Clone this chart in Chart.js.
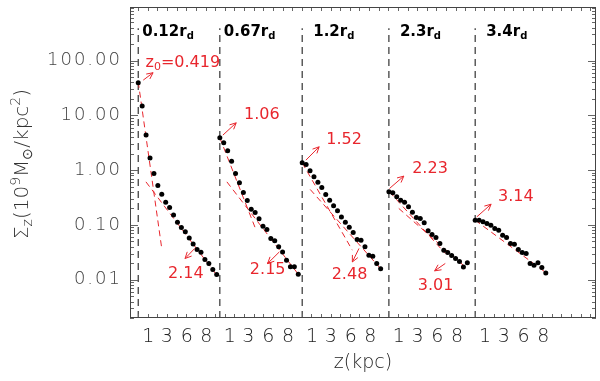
<!DOCTYPE html>
<html>
<head>
<meta charset="utf-8">
<script src="https://cdn.jsdelivr.net/npm/chart.js@4.4.0/dist/chart.umd.min.js"></script>
<style>
  html, body { margin: 0; padding: 0; background: #fff; }
</style>
</head>
<body>
<canvas id="chart" width="600" height="381"></canvas>
<script>
// vertical profiles, z in kpc, surface density in 1e9 Msun/kpc^2
const zKpc = [0, 0.5, 1, 1.5, 2, 2.5, 3, 3.5, 4, 4.5, 5, 5.5, 6, 6.5, 7, 7.5, 8, 8.5, 9, 9.5, 10];
const radii = ["0.12", "0.67", "1.2", "2.3", "3.4"];
const panelOffsets = [1.05, 11.45, 21.95, 33.0, 44.0];

const sigma1 = [39.3, 14.8, 4.36, 1.66, 0.87, 0.525, 0.364, 0.26, 0.208, 0.151, 0.112, 0.0897, 0.0747, 0.058, 0.045, 0.0356, 0.0318, 0.0233, 0.0197, 0.0153, 0.0124];
const sigma2 = [3.89, 3.15, 2.25, 1.46, 0.87, 0.586, 0.391, 0.279, 0.194, 0.169, 0.129, 0.095, 0.0824, 0.0565, 0.0512, 0.0398, 0.0322, 0.0227, 0.0172, 0.0172, 0.0126];
const sigma3 = [1.36, 1.27, 0.973, 0.755, 0.604, 0.483, 0.36, 0.283, 0.223, 0.181, 0.14, 0.112, 0.091, 0.0727, 0.0542, 0.0527, 0.0398, 0.028, 0.0269, 0.0197, 0.0158];
const sigma4 = [0.402, 0.385, 0.326, 0.283, 0.26, 0.214, 0.171, 0.137, 0.131, 0.109, 0.078, 0.0668, 0.0589, 0.0458, 0.0346, 0.0313, 0.0276, 0.0243, 0.0215, 0.0171, 0.0203];
const sigma5 = [0.122, 0.122, 0.114, 0.106, 0.099, 0.086, 0.08, 0.065, 0.0589, 0.0458, 0.0445, 0.0356, 0.0313, 0.03, 0.0197, 0.0184, 0.0203, 0.0167, 0.0133];

// exponential fits: [z start, sigma start, z end, sigma end]
const fitInner = [[0, 41, 2.97, 0.0397], [0, 3.89, 4.63, 0.08], [0, 1.36, 6.39, 0.0346], [0.08, 0.402, 7.19, 0.0301], [0, 0.122, 8.88, 0.0139]];
const fitOuter = [[0.98, 0.611, 9.95, 0.0124], [0.9, 0.611, 10.0, 0.0126], [1.02, 0.444, 10.03, 0.0157], [1.26, 0.2, 9.73, 0.0171]];
const scaleInner = ["0.419", "1.06", "1.52", "2.23", "3.14"];
const scaleOuter = ["2.14", "2.15", "2.48", "3.01"];

const yTicks = [0.01, 0.1, 1, 10, 100];
const yTickText = ["0.01", "0.10", "1.00", "10.00", "100.00"];
const xTickPos = [1.27, 3.64, 6.18, 8.68];
const xTickText = ["1", "3", "6", "8"];

const RED = "#e8262d";
const FONT = '"DejaVu Sans", sans-serif';

// where the annotations sit, in axis units (x, sigma)
const innerLabelAt = [[6.73, 90], [16.81, 10.1], [27.28, 3.64], [38.24, 1.07], [49.18, 0.325]];
const outerLabelAt = [[7.11, 0.013], [17.55, 0.0149], [27.98, 0.0121], [38.96, 0.0076]];
const innerArrows = [[1.69, 44, 2.94, 60], [11.84, 4.36, 13.54, 7.31], [22.42, 1.52, 24.11, 2.67], [33.08, 0.463, 34.9, 0.777], [44.2, 0.14, 46.03, 0.239]];
const outerArrows = [[8.25, 0.0372, 7.02, 0.0244], [19.04, 0.0322, 17.55, 0.0198], [29.19, 0.0372, 28.34, 0.0211], [40.19, 0.0198, 38.83, 0.0145]];

const datasets = [];
[sigma1, sigma2, sigma3, sigma4, sigma5].forEach((vals, i) => {
  datasets.push({
    data: vals.map((v, j) => ({ x: panelOffsets[i] + zKpc[j], y: v })),
    showLine: false,
    pointRadius: 2.5,
    pointBackgroundColor: "#000",
    pointBorderWidth: 0,
  });
});
fitInner.concat(fitOuter).forEach((f, k) => {
  const p = panelOffsets[k < fitInner.length ? k : k - fitInner.length];
  datasets.push({
    data: [{ x: p + f[0], y: f[1] }, { x: p + f[2], y: f[3] }],
    showLine: true,
    borderColor: RED,
    borderWidth: 1,
    borderDash: [6, 4],
    pointRadius: 0,
  });
});
panelOffsets.forEach((p) => {
  datasets.push({
    data: [{ x: p, y: 0.002 }, { x: p, y: 390 }],
    showLine: true,
    borderColor: "#333",
    borderWidth: 1.2,
    borderDash: [7, 5],
    pointRadius: 0,
  });
});

function richText(ctx, parts, x, y, align) {
  let w = 0;
  parts.forEach((p) => { ctx.font = p.font; w += ctx.measureText(p.t).width; });
  let cx = align === "center" ? x - w / 2 : x;
  parts.forEach((p) => {
    ctx.font = p.font;
    ctx.fillText(p.t, cx, y + (p.dy || 0));
    cx += ctx.measureText(p.t).width;
  });
}

function arrow(ctx, x0, y0, x1, y1) {
  const ang = Math.atan2(y1 - y0, x1 - x0);
  const h = 7;
  ctx.beginPath();
  ctx.moveTo(x0, y0);
  ctx.lineTo(x1, y1);
  ctx.moveTo(x1 - h * Math.cos(ang - 0.45), y1 - h * Math.sin(ang - 0.45));
  ctx.lineTo(x1, y1);
  ctx.lineTo(x1 - h * Math.cos(ang + 0.45), y1 - h * Math.sin(ang + 0.45));
  ctx.stroke();
}

const decorations = {
  id: "decorations",
  afterDraw(chart) {
    const { ctx, chartArea: a, scales: { x, y } } = chart;
    ctx.save();
    ctx.strokeStyle = "#666";
    ctx.lineWidth = 1;
    ctx.beginPath();
    for (let e = -3; e <= 2; e++) {
      for (let m = 1; m <= 9; m++) {
        const v = m * Math.pow(10, e);
        if (v < y.min || v > y.max) continue;
        const py = Math.round(y.getPixelForValue(v)) + 0.5;
        const len = m === 1 ? 8 : 4;
        ctx.moveTo(a.left, py); ctx.lineTo(a.left + len, py);
        ctx.moveTo(a.right, py); ctx.lineTo(a.right - len, py);
      }
    }
    for (let u = 1.05; u <= x.max; u += 1.226) {
      const px = Math.round(x.getPixelForValue(u)) + 0.5;
      ctx.moveTo(px, a.bottom); ctx.lineTo(px, a.bottom - 4);
      ctx.moveTo(px, a.top); ctx.lineTo(px, a.top + 4);
    }
    ctx.stroke();
    ctx.strokeStyle = "#444";
    ctx.strokeRect(a.left + 0.5, a.top + 0.5, a.width - 1, a.height - 1);

    // y tick labels
    ctx.fillStyle = "#444";
    ctx.font = "200 18px " + FONT;
    ctx.textAlign = "right";
    ctx.textBaseline = "middle";
    ctx.letterSpacing = "2px";
    yTicks.forEach((v, i) => ctx.fillText(yTickText[i], a.left - 8, y.getPixelForValue(v)));
    ctx.letterSpacing = "0px";

    // y title
    ctx.save();
    ctx.translate(28, 164);
    ctx.rotate(-Math.PI / 2);
    ctx.fillStyle = "#333";
    ctx.textAlign = "left";
    ctx.textBaseline = "alphabetic";
    const big = "200 20px " + FONT, small = "200 14px " + FONT;
    richText(ctx, [
      { t: "\u03A3", font: big }, { t: "z", font: small, dy: 4 },
      { t: "(10", font: big }, { t: "9", font: small, dy: -8 },
      { t: "M", font: big }, { t: "\u2299", font: small, dy: 4 },
      { t: "/kpc", font: big }, { t: "2", font: small, dy: -8 },
      { t: ")", font: big },
    ], 0, 0, "center");
    ctx.restore();

    // panel titles
    ctx.fillStyle = "#000";
    ctx.textAlign = "left";
    ctx.textBaseline = "alphabetic";
    const titleDx = [4, 4, 11, 11, 11];
    radii.forEach((r, i) => {
      const px = x.getPixelForValue(panelOffsets[i]) + titleDx[i];
      richText(ctx, [
        { t: r + "r", font: "bold 15px " + FONT },
        { t: "d", font: "bold 10px " + FONT, dy: 3 },
      ], px, a.top + 29, "left");
    });

    // scale heights
    ctx.fillStyle = RED;
    ctx.strokeStyle = RED;
    ctx.textBaseline = "middle";
    const lab = "16px " + FONT;
    scaleInner.forEach((s, i) => {
      const [u, v] = innerLabelAt[i];
      const parts = i === 0
        ? [{ t: "z", font: lab }, { t: "0", font: "11px " + FONT, dy: 4 }, { t: "=" + s, font: lab }]
        : [{ t: s, font: lab }];
      richText(ctx, parts, x.getPixelForValue(u), y.getPixelForValue(v), "center");
    });
    scaleOuter.forEach((s, i) => {
      const [u, v] = outerLabelAt[i];
      richText(ctx, [{ t: s, font: lab }], x.getPixelForValue(u), y.getPixelForValue(v), "center");
    });
    ctx.lineWidth = 1;
    innerArrows.concat(outerArrows).forEach((r) => {
      arrow(ctx, x.getPixelForValue(r[0]), y.getPixelForValue(r[1]), x.getPixelForValue(r[2]), y.getPixelForValue(r[3]));
    });
    ctx.restore();
  },
};

new Chart(document.getElementById("chart"), {
  type: "scatter",
  data: { datasets },
  options: {
    responsive: false,
    animation: false,
    events: [],
    layout: { padding: { top: 7, right: 2, left: 0, bottom: 0 } },
    plugins: { legend: { display: false }, tooltip: { enabled: false } },
    scales: {
      x: {
        type: "linear",
        min: 0,
        max: 59.4,
        grid: { display: false, drawTicks: false },
        border: { display: false },
        afterBuildTicks: (scale) => {
          scale.ticks = [];
          panelOffsets.forEach((p) => xTickPos.forEach((t) => scale.ticks.push({ value: p + t })));
        },
        afterFit: (scale) => { scale.height = 63; },
        ticks: {
          autoSkip: false,
          maxRotation: 0,
          padding: 8,
          color: "#222",
          font: { family: FONT, size: 19, weight: 200 },
          callback: (v, i) => xTickText[i % xTickText.length],
        },
        title: {
          display: true,
          text: "z(kpc)",
          color: "#222",
          font: { family: FONT, size: 19, weight: 200 },
          padding: { top: 0, bottom: 7 },
        },
      },
      y: {
        type: "logarithmic",
        min: 0.002,
        max: 950,
        grid: { display: false, drawTicks: false },
        border: { display: false },
        ticks: { display: false },
        afterFit: (scale) => { scale.width = 130; },
      },
    },
  },
  plugins: [decorations],
});
</script>
</body>
</html>
